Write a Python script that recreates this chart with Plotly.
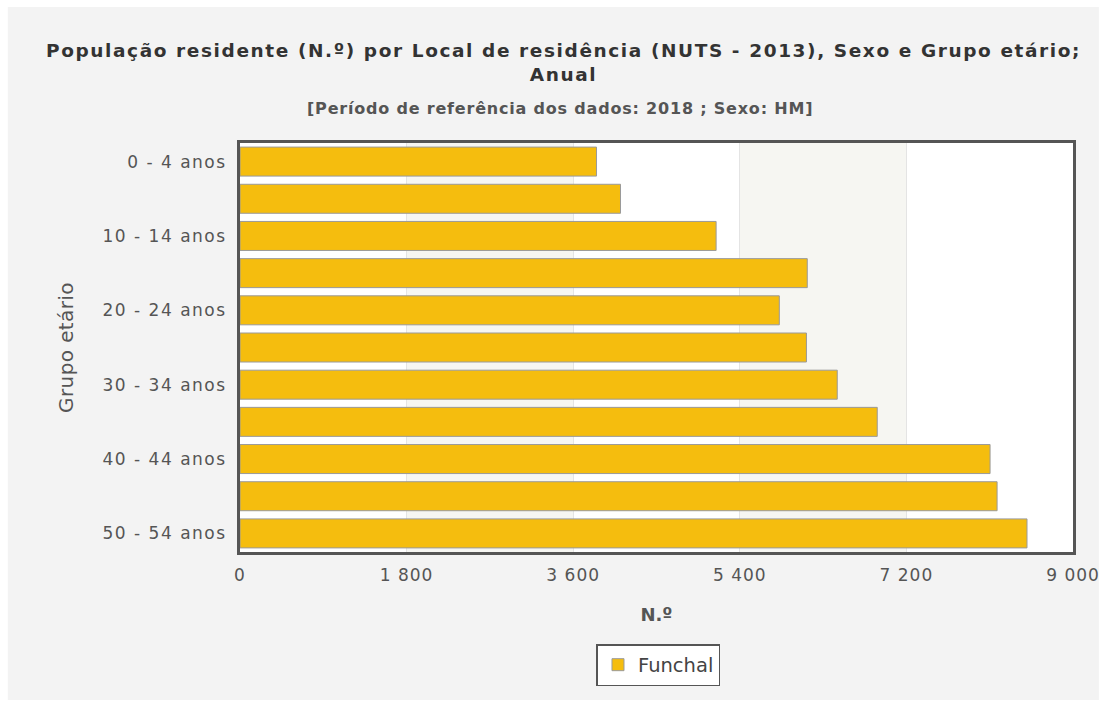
import plotly.graph_objects as go

categories = ["0 - 4 anos", "5 - 9 anos", "10 - 14 anos", "15 - 19 anos", "20 - 24 anos",
              "25 - 29 anos", "30 - 34 anos", "35 - 39 anos", "40 - 44 anos", "45 - 49 anos",
              "50 - 54 anos"]
values = [3852, 4111, 5144, 6129, 5827, 6120, 6453, 6885, 8104, 8180, 8503]
tick_labels = ["0 - 4 anos", "10 - 14 anos", "20 - 24 anos", "30 - 34 anos", "40 - 44 anos", "50 - 54 anos"]
x_ticks = [0, 1800, 3600, 5400, 7200, 9000]
series_name = "Funchal"
title_line1 = "População residente (N.º) por Local de residência (NUTS - 2013), Sexo e Grupo etário;"
title_line2 = "Anual"
subtitle = "[Período de referência dos dados: 2018 ; Sexo: HM]"

W, H = 1109, 705
L, R, T, B = 240, 1076, 143, 552
pw, ph = R - L, B - T
FONT = "DejaVu Sans, Verdana, sans-serif"

def px(x):
    return (x - L) / pw

def py(y):
    return (B - y) / ph

fig = go.Figure()
fig.add_trace(go.Bar(
    y=categories, x=values, orientation="h", name=series_name,
    marker=dict(color="#F5BD0E", line=dict(color="#9a9a9a", width=1)),
    showlegend=True,
))

shapes = [
    dict(type="rect", xref="paper", yref="paper", x0=px(7), x1=px(1102), y0=py(700), y1=py(7),
         fillcolor="#f3f3f3", line=dict(width=0), layer="below"),
    dict(type="rect", xref="paper", yref="paper", x0=0, x1=1, y0=0, y1=1,
         fillcolor="#ffffff", line=dict(width=0), layer="below"),
]
for a, b in [(x_ticks[1], x_ticks[2]), (x_ticks[3], x_ticks[4])]:
    shapes.append(dict(type="rect", xref="x", yref="paper", x0=a, x1=b, y0=0, y1=1,
                       fillcolor="#f6f6f2", line=dict(width=0), layer="below"))

fig.update_layout(
    width=W, height=H,
    margin=dict(l=L, r=W - R, t=T, b=H - B),
    paper_bgcolor="#ffffff", plot_bgcolor="rgba(0,0,0,0)",
    font=dict(family=FONT, color="#555555", size=17),
    separators=", ",
    bargap=0.22,
    shapes=shapes,
    showlegend=True,
    legend=dict(orientation="h", x=px(660), xanchor="center", y=py(665), yanchor="middle",
                bgcolor="#ffffff", bordercolor="#555555", borderwidth=1.5,
                font=dict(family=FONT, size=19.5, color="#444444"), itemwidth=30),
    annotations=[
        dict(text="<b>" + title_line1 + "</b><br><b>" + title_line2 + "</b>",
             xref="paper", yref="paper", x=px(565), y=py(62.5), xanchor="center", yanchor="middle",
             showarrow=False, align="center", font=dict(family=FONT, size=18.5, color="#333333")),
        dict(text="<b>" + subtitle + "</b>",
             xref="paper", yref="paper", x=px(561), y=py(108), xanchor="center", yanchor="middle",
             showarrow=False, font=dict(family=FONT, size=16, color="#555555")),
    ],
)

fig.update_xaxes(
    range=[0, 9000], tickvals=x_ticks, tickformat=",d",
    showgrid=True, gridcolor="#e4e4e4", gridwidth=1,
    showline=True, mirror=True, linecolor="#555555", linewidth=3,
    zeroline=False, ticks="", ticklabelstandoff=6,
    title=dict(text="<b>N.º</b>", font=dict(family=FONT, size=18, color="#555555"), standoff=24),
    tickfont=dict(family=FONT, size=17, color="#555555"),
)
fig.update_yaxes(
    categoryorder="array", categoryarray=categories, autorange="reversed",
    tickvals=tick_labels, ticktext=tick_labels,
    showgrid=False, showline=True, mirror=True, linecolor="#555555", linewidth=3,
    ticks="", ticklabelstandoff=7,
    title=dict(text="Grupo etário", font=dict(family=FONT, size=20, color="#555555"), standoff=42),
    tickfont=dict(family=FONT, size=17, color="#555555"),
)

css = (
    "g.ytick text{letter-spacing:1.5px}"
    "g.xtick text{letter-spacing:1px}"
    "g.annotation[data-index='0'] text{letter-spacing:1.6px}"
    "g.annotation[data-index='1'] text{letter-spacing:0.8px}"
    "text.ytitle{letter-spacing:0.4px}"
)
post = ("document.body.style.margin='0';"
        "var s=document.createElement('style');s.textContent=\"" + css + "\";"
        "document.head.appendChild(s);")

fig.write_html("out.html", post_script=post, config={"displayModeBar": False})
